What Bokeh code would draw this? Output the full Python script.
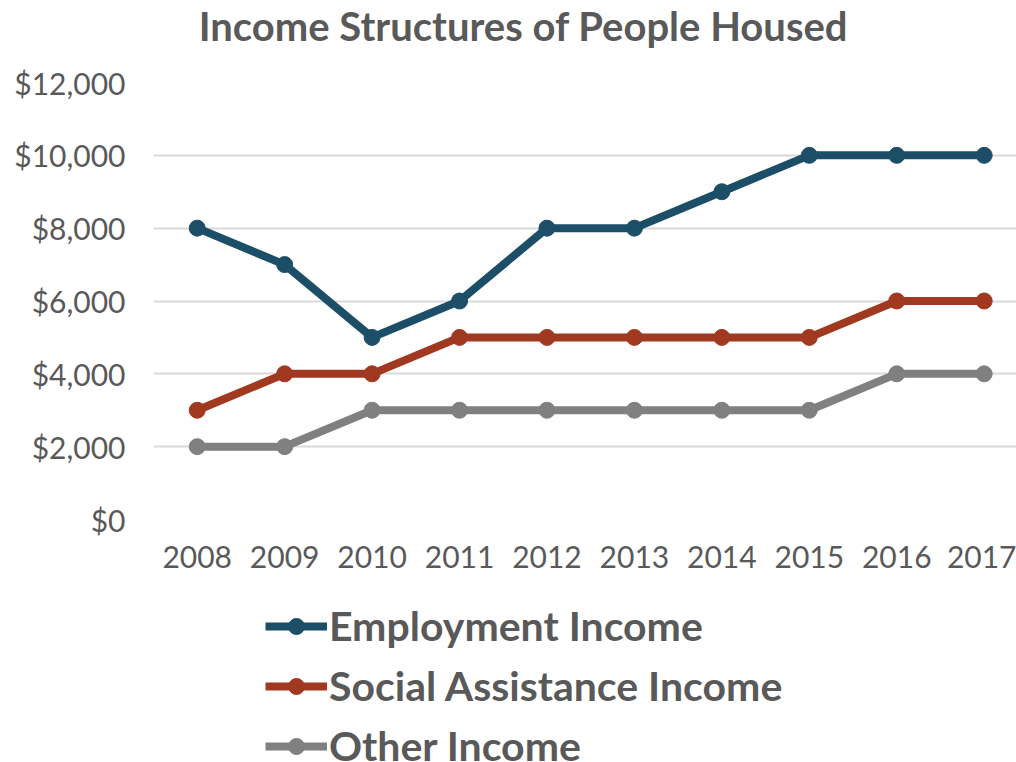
from bokeh.plotting import figure
from bokeh.layouts import column
from bokeh.models import Range1d, FixedTicker, NumeralTickFormatter, Legend, LegendItem, Label
from bokeh.embed import file_html
from bokeh.resources import INLINE

years = [2008, 2009, 2010, 2011, 2012, 2013, 2014, 2015, 2016, 2017]
employment = [8000, 7000, 5000, 6000, 8000, 8000, 9000, 10000, 10000, 10000]
social = [3000, 4000, 4000, 5000, 5000, 5000, 5000, 5000, 6000, 6000]
other = [2000, 2000, 3000, 3000, 3000, 3000, 3000, 3000, 4000, 4000]
series_names = ["Employment Income", "Social Assistance Income", "Other Income"]
colors = ["#1D4E68", "#A0391F", "#808080"]
y_ticks = [0, 2000, 4000, 6000, 8000, 10000, 12000]
title_text = "Income Structures of People Housed"

FONT = "Lato"
TXT = "#595959"


def bare(fig):
    fig.min_border = 0
    fig.outline_line_color = None
    fig.grid.grid_line_color = None
    fig.border_fill_color = "white"
    fig.background_fill_color = "white"


# title strip
pt = figure(width=1016, height=50, output_backend="svg", toolbar_location=None,
            x_axis_location=None, y_axis_location=None)
bare(pt)
pt.add_layout(Label(x=370, y=25, x_units="screen", y_units="screen", text=title_text,
                    text_font=FONT, text_font_style="bold", text_font_size="40px",
                    text_color=TXT, text_align="center", text_baseline="middle"))

# main chart
p = figure(width=1016, height=550, output_backend="svg", toolbar_location=None,
           x_range=Range1d(2007.5, 2007.5 + 863 / 87.44), y_range=Range1d(0, 12000))
p.min_border_left = 153
p.min_border_right = 0
p.min_border_top = 32
p.min_border_bottom = 81
p.outline_line_color = None
p.background_fill_color = "white"
p.border_fill_color = "white"

p.xgrid.grid_line_color = None
p.ygrid.grid_line_color = "#D9D9D9"
p.ygrid.grid_line_width = 2
p.yaxis.ticker = FixedTicker(ticks=y_ticks)
p.xaxis.ticker = FixedTicker(ticks=years)
p.yaxis.formatter = NumeralTickFormatter(format="$0,0")
for ax in (p.xaxis, p.yaxis):
    ax.axis_line_color = None
    ax.major_tick_line_color = None
    ax.minor_tick_line_color = None
    ax.major_label_text_font = FONT
    ax.major_label_text_font_size = "30px"
    ax.major_label_text_color = TXT
p.yaxis.major_label_standoff = 22
p.xaxis.major_label_standoff = 20

for name, vals, c in zip(series_names, [employment, social, other], colors):
    p.line(years, vals, line_color=c, line_width=8)
    p.scatter(years, vals, size=16, fill_color=c, line_color=c)

# legend strip
p2 = figure(width=1016, height=162, output_backend="svg", toolbar_location=None,
            x_axis_location=None, y_axis_location=None)
bare(p2)

items = []
for name, vals, c in zip(series_names, [employment, social, other], colors):
    l = p2.line(years, vals, line_color=c, line_width=8, visible=False)
    s = p2.scatter(years, vals, size=16, fill_color=c, line_color=c, visible=False)
    items.append(LegendItem(label=name, renderers=[l, s]))

legend = Legend(items=items, location=(112, -8), orientation="vertical",
                background_fill_alpha=0, border_line_color=None,
                inactive_fill_alpha=0,
                label_text_font=FONT, label_text_font_style="bold",
                label_text_font_size="41px", label_text_color=TXT,
                glyph_width=62, glyph_height=40, label_height=40,
                label_standoff=2, spacing=11, padding=0, margin=0)
p2.add_layout(legend, "center")

layout = column(pt, p, p2, spacing=0)
open("out.html", "w").write(file_html(layout, INLINE))
